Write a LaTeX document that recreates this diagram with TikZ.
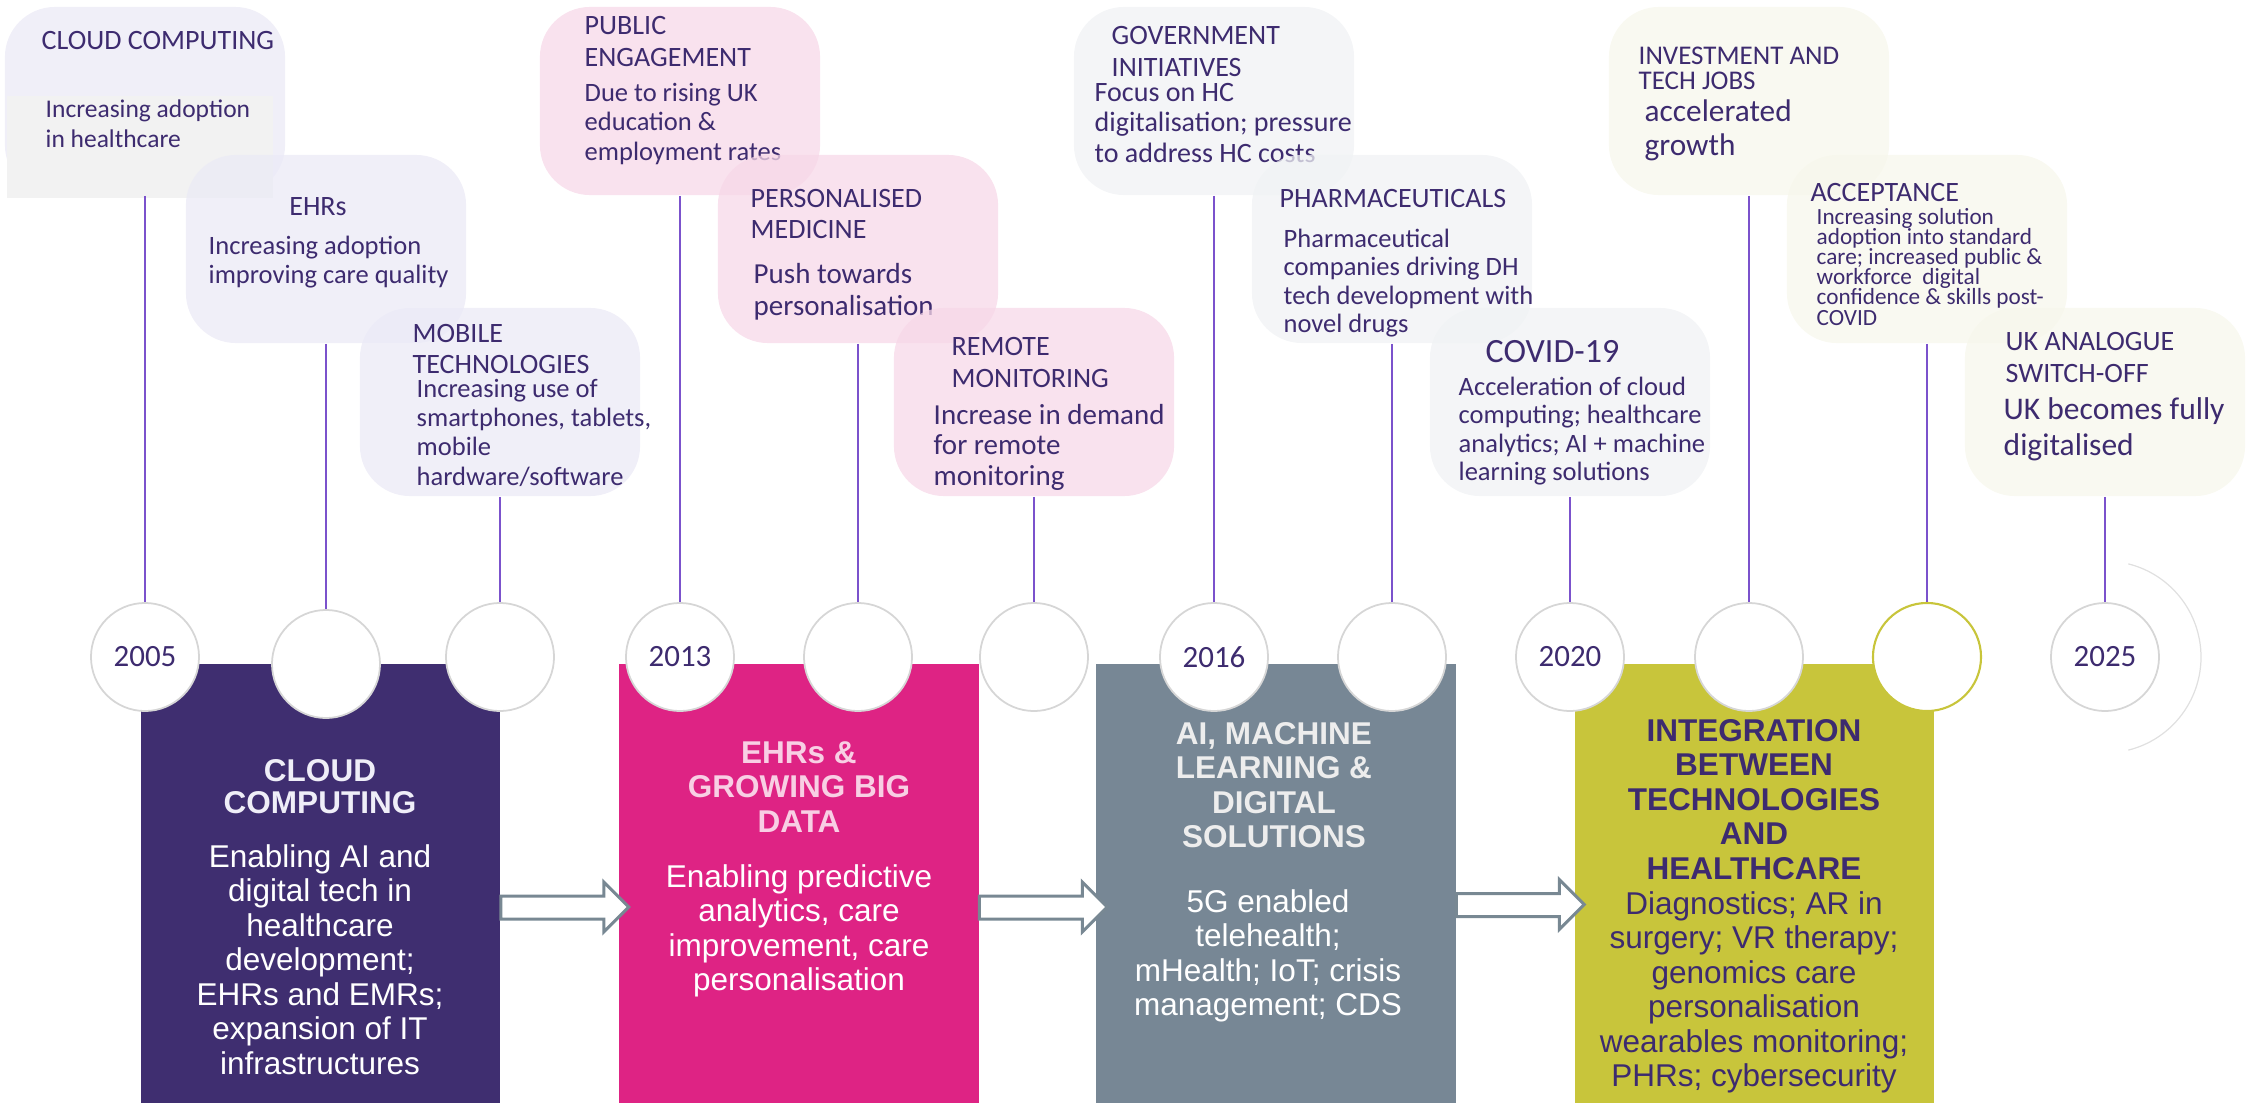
\documentclass[tikz,border=0pt]{standalone}
\usepackage{fontspec}
\setmainfont{Carlito}
\newfontfamily\arialf{Liberation Sans}
\usetikzlibrary{calc}

\definecolor{ink}{HTML}{3D2B6F}
\definecolor{stem}{HTML}{7B52CC}
\definecolor{ring}{HTML}{D6D6D6}
\definecolor{lav}{HTML}{EBEAF6}
\definecolor{blush}{HTML}{F7D8E8}
\definecolor{mist}{HTML}{F0F2F4}
\definecolor{cream}{HTML}{F7F7EC}
\definecolor{cloudbg}{HTML}{3F2E70}
\definecolor{ehrbg}{HTML}{DE2384}
\definecolor{aibg}{HTML}{778795}
\definecolor{intbg}{HTML}{C8C53B}
\definecolor{arrowgrey}{HTML}{788893}

\lineskiplimit=-100pt

\begin{document}
\begin{tikzpicture}[x=0.01cm, y=-0.01cm,
	bubble/.style={rounded corners=0.5cm, minimum width=2.8cm, minimum height=1.88cm, fill opacity=0.75, inner sep=0},
	ttl/.style={anchor=base west, align=left, inner sep=0, text=ink, font=\fontsize{7.97}{9.1}\selectfont},
	bdy/.style={anchor=base west, align=left, inner sep=0, text=ink, font=\fontsize{7.54}{8.25}\selectfont},
	year/.style={circle, draw=ring, line width=0.5pt, fill=white, minimum size=1.08cm, inner sep=0, text=ink, font=\fontsize{8.8}{10}\selectfont},
	stemline/.style={draw=stem, line width=0.6pt},
	bigbox/.style={minimum width=3.59cm, minimum height=4.39cm, inner sep=0},
	boxtitle/.style={anchor=base, align=center, inner sep=0, font=\arialf\bfseries\fontsize{8.96}{9.8}\selectfont},
	boxtext/.style={anchor=base, align=center, inner sep=0, font=\arialf\fontsize{8.96}{9.8}\selectfont},
	blockarrow/.style={draw=arrowgrey, fill=white, line width=0.85pt}]

	\useasboundingbox (0,0) rectangle (2253,1103);

	% bubbles, 2005 - 2013 (text nodes sit on their last baseline)
	\node[bubble, fill=lav] (b1) at (145,101) {};
	\fill[fill=black!5] (7,96) rectangle (273,198);
	\node[ttl] (t1) at (41,50) {CLOUD COMPUTING};
	\node[bdy, font=\fontsize{7.25}{8.25}\selectfont] (d1) at (45,147) {Increasing adoption\\in healthcare};

	\node[bubble, fill=lav] (b2) at (326,249) {};
	\node[ttl, anchor=base] (t2) at (318,215) {EHRs};
	\node[bdy, font=\fontsize{7.54}{7.97}\selectfont] (d2) at (208,283) {Increasing adoption\\improving care quality};

	\node[bubble, fill=lav] (b3) at (500,402) {};
	\node[ttl, font=\fontsize{7.97}{8.54}\selectfont] (t3) at (412,373) {MOBILE\\TECHNOLOGIES};
	\node[bdy] (d3) at (416,485) {Increasing use of\\smartphones, tablets,\\mobile\\hardware/software};

	% bubbles, 2013 - 2016
	\node[bubble, fill=blush] (b4) at (680,101) {};
	\node[ttl] (t4) at (584,67) {PUBLIC\\ENGAGEMENT};
	\node[bdy] (d4) at (584,160) {Due to rising UK\\education \&\\employment rates};

	\node[bubble, fill=blush] (b5) at (858,249) {};
	\node[ttl, font=\fontsize{7.97}{8.8}\selectfont] (t5) at (750,238) {PERSONALISED\\MEDICINE};
	\node[bdy, font=\fontsize{8.25}{9.1}\selectfont] (d5) at (753,315) {Push towards\\personalisation};

	\node[bubble, fill=blush] (b6) at (1034,402) {};
	\node[ttl] (t6) at (951,387) {REMOTE\\MONITORING};
	\node[bdy, font=\fontsize{8.25}{8.54}\selectfont] (d6) at (933,485) {Increase in demand\\for remote\\monitoring};

	% bubbles, 2016 - 2020
	\node[bubble, fill=mist] (b7) at (1214,101) {};
	\node[ttl] (t7) at (1111,77) {GOVERNMENT\\INITIATIVES};
	\node[bdy, font=\fontsize{7.97}{8.54}\selectfont] (d7) at (1094,162) {Focus on HC\\digitalisation; pressure\\to address HC costs};

	\node[bubble, fill=mist] (b8) at (1392,249) {};
	\node[ttl] (t8) at (1279,207) {PHARMACEUTICALS};
	\node[bdy, font=\fontsize{7.54}{8.1}\selectfont] (d8) at (1283,332.5) {Pharmaceutical\\companies driving DH\\tech development with\\novel drugs};

	\node[bubble, fill=mist] (b9) at (1570,402) {};
	\node[ttl, font=\fontsize{9.67}{10}\selectfont] (t9) at (1485,362) {COVID-19};
	\node[bdy, font=\fontsize{7.54}{8.1}\selectfont] (d9) at (1458,480.5) {Acceleration of cloud\\computing; healthcare\\analytics; AI + machine\\learning solutions};

	% bubbles, 2020 - 2025
	\node[bubble, fill=cream] (b10) at (1749,101) {};
	\node[ttl, font=\fontsize{7.68}{7.11}\selectfont] (t10) at (1638,90) {INVESTMENT AND\\TECH JOBS};
	\node[bdy, font=\fontsize{8.9}{9.4}\selectfont] (d10) at (1644,155) {accelerated\\growth};

	\node[bubble, fill=cream] (b11) at (1927,249) {};
	\node[ttl] (t11) at (1810,202) {ACCEPTANCE};
	\node[bdy, font=\fontsize{6.6}{5.7}\selectfont] (d11) at (1816,325) {Increasing solution\\adoption into standard\\care; increased public \&\\workforce\ \ digital\\confidence \& skills post-\\COVID};

	\node[bubble, fill=cream] (b12) at (2105,402) {};
	\node[ttl] (t12) at (2005,382) {UK ANALOGUE\\SWITCH-OFF};
	\node[bdy, font=\fontsize{8.96}{9.96}\selectfont] (d12) at (2003,455) {UK becomes fully\\digitalised};

	% main blocks
	\node[bigbox, fill=cloudbg] (box1) at (320.5,883.5) {};
	\node[bigbox, fill=ehrbg] (box2) at (799,883.5) {};
	\node[bigbox, fill=aibg] (box3) at (1276,883.5) {};
	\node[bigbox, fill=intbg] (box4) at (1754.5,883.5) {};

	% time line
	\node[year] (y1) at (145,657) {2005};
	\node[year] (y2) at (326,664) {};
	\node[year] (y3) at (500,657) {};
	\node[year] (y4) at (680,657) {2013};
	\node[year] (y5) at (858,657) {};
	\node[year] (y6) at (1034,657) {};
	\node[year] (y7) at (1214,657) {2016};
	\node[year] (y8) at (1392,657) {};
	\node[year] (y9) at (1570,657) {2020};
	\node[year] (y10) at (1749,657) {};
	\node[year, draw=intbg, line width=0.6pt] (y11) at (1927,657) {};
	\node[year] (y12) at (2105,657) {2025};

	\foreach \i in {1,...,12}
		\draw[stemline] (b\i.south) -- (y\i.north);

	\draw[black!12, line width=0.35pt] ($(y12.center)+(76:96)$) arc[start angle=76, end angle=-76, radius=96];

	% arrows between blocks
	\draw[blockarrow] ($(box1.east)+(0,12.5)$) -- ++(103,0) -- ++(0,-14) -- ++(25,25) -- ++(-25,25) -- ++(0,-13) -- ++(-103,0) -- cycle;
	\draw[blockarrow] ($(box2.east)+(0,12.5)$) -- ++(103,0) -- ++(0,-14) -- ++(25,25) -- ++(-25,25) -- ++(0,-13) -- ++(-103,0) -- cycle;
	\draw[blockarrow] ($(box3.east)+(0,10)$) -- ++(103,0) -- ++(0,-14) -- ++(25,25) -- ++(-25,25) -- ++(0,-13) -- ++(-103,0) -- cycle;

	% block texts
	\node[boxtitle, text=lav!80!white, font=\arialf\bfseries\fontsize{8.96}{9.1}\selectfont] (h1) at (320,813) {CLOUD\\COMPUTING};
	\node[boxtext, text=white] (e1) at (320,1074) {Enabling AI and\\digital tech in\\healthcare\\development;\\EHRs and EMRs;\\expansion of IT\\infrastructures};

	\node[boxtitle, text=ehrbg!22!white] (h2) at (799,832) {EHRs \&\\GROWING BIG\\DATA};
	\node[boxtext, text=white] (e2) at (799,990.5) {Enabling predictive\\analytics, care\\improvement, care\\personalisation};

	\node[boxtitle, text=white!93!black] (h3) at (1274,847.5) {AI, MACHINE\\LEARNING \&\\DIGITAL\\SOLUTIONS};
	\node[boxtext, text=white] (e3) at (1268,1015.5) {5G enabled\\telehealth;\\mHealth; IoT; crisis\\management; CDS};

	\node[boxtitle, text=ink] (h4) at (1754,879) {INTEGRATION\\BETWEEN\\TECHNOLOGIES\\AND\\HEALTHCARE};
	\node[boxtext, text=ink] (e4) at (1754,1086.5) {Diagnostics; AR in\\surgery; VR therapy;\\genomics care\\personalisation\\wearables monitoring;\\PHRs; cybersecurity};
\end{tikzpicture}
\end{document}
